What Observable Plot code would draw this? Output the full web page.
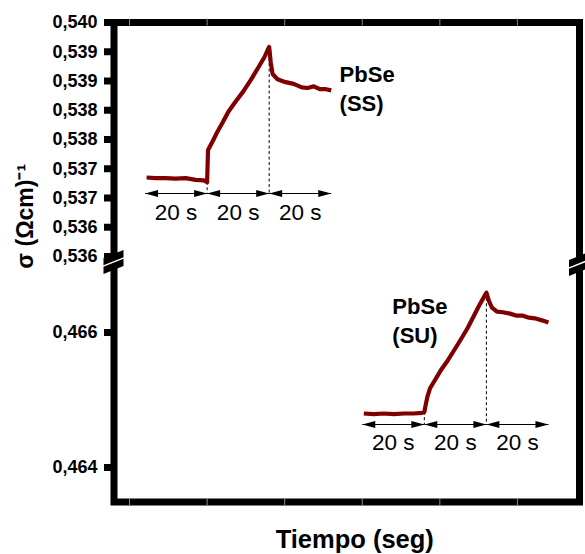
<!DOCTYPE html>
<html>
<head>
<meta charset="utf-8">
<script src="https://cdn.jsdelivr.net/npm/d3@7"></script>
<script src="https://cdn.jsdelivr.net/npm/@observablehq/plot@0.6"></script>
<style>
  body { margin: 0; background: #fff; }
  svg { display: block; }
</style>
</head>
<body>
<div id="chart"></div>
<script>
// Conductivity transients of PbSe films (light off / on / off, 20 s each)
const ssStart = 10;   // s, where the SS trace begins on the time axis
const suStart = 80;   // s, where the SU trace begins on the time axis

const ssTime  = [0.5, 3.4, 6.6, 9.8, 13.1, 16.3, 18.9, 20.0,
                 20.3, 21.8, 23.1, 25.0, 26.9, 29.2, 31.5, 34.0, 36.6, 38.5, 39.5, 40.0,
                 40.5, 41.1, 42.7, 45.3, 47.9, 50.5, 52.4, 54.4, 56.3, 58.3, 60.0];
const ssSigma = [0.53735, 0.53734, 0.53734, 0.53733, 0.53734, 0.53731, 0.53730, 0.53727,
                 0.53782, 0.53797, 0.53811, 0.53829, 0.53848, 0.53865, 0.53881, 0.53901, 0.53924, 0.53941, 0.53953, 0.53958,
                 0.53932, 0.53912, 0.53903, 0.53898, 0.53895, 0.53889, 0.53888, 0.53891, 0.53886, 0.53886, 0.53884];

const suTime  = [0.5, 3.7, 6.9, 10.2, 13.4, 16.6, 19.2, 20.0,
                 20.4, 21.0, 21.8, 23.1, 25.3, 27.6, 29.5, 31.8, 34.0, 35.9, 37.9, 39.5, 40.0,
                 40.8, 41.8, 43.4, 45.3, 47.6, 49.8, 51.8, 53.7, 55.6, 57.9, 60.0];
const suSigma = [0.46480, 0.46479, 0.46480, 0.46479, 0.46480, 0.46480, 0.46481, 0.46482,
                 0.46492, 0.46505, 0.46517, 0.46527, 0.46544, 0.46559, 0.46573, 0.46590, 0.46607, 0.46624, 0.46642, 0.46655, 0.46659,
                 0.46647, 0.46637, 0.46631, 0.46630, 0.46628, 0.46625, 0.46625, 0.46622, 0.46621, 0.46618, 0.46615];

const segmentEdges  = [0, 20, 40, 60];
const segmentLabels = ["20 s", "20 s", "20 s"];

const yTicks      = [0.5400, 0.5395, 0.5390, 0.5385, 0.5380, 0.5375, 0.5370, 0.5365, 0.5360, 0.466, 0.464];
const yTickLabels = ["0,540", "0,539", "0,539", "0,538", "0,538", "0,537", "0,537", "0,536", "0,536", "0,466", "0,464"];
const frameTicks  = [5, 30, 55, 80, 105, 130];

const ssName = ["PbSe", "(SS)"];
const suName = ["PbSe", "(SU)"];
const xTitle = "Tiempo (seg)";
const yTitle = "σ (Ωcm)⁻¹";

// ---- layout of the broken axis ----
const W = 585, H = 554;
const mL = 113.5, mR = 6, mT = 22, mB = 52.5;
const yBreakPx = 262;
// lower band (SU) runs up to lowBreak; upper band (SS) starts at highBreak,
// drawn with a slightly smaller unit length than the lower band
const lowMin = 0.463489, lowBreak = 0.467037, highBreak = 0.535897, highMax = 0.5400;
const highRatio = 58.5 / 67.5;
const yFold = v => v > 0.5 ? lowBreak + (v - highBreak) * highRatio : v;

const font = "'Liberation Sans', Arial, Helvetica, sans-serif";
const lineColor = "#800000";

const ss = ssTime.map((t, i) => ({x: ssStart + t, y: ssSigma[i]}));
const su = suTime.map((t, i) => ({x: suStart + t, y: suSigma[i]}));

// annotation levels for each trace (arrow row, label row)
const groups = [
  {start: ssStart, arrowY: 0.537077, labelY: 0.536752, trace: ss},
  {start: suStart, arrowY: 0.464637, labelY: 0.464370, trace: su}
];

const segments = [], heads = [], segText = [], dashes = [];
for (const g of groups) {
  for (let k = 0; k < 3; ++k) {
    const a = g.start + segmentEdges[k], b = g.start + segmentEdges[k + 1];
    segments.push({x1: a, x2: b, y: g.arrowY});
    heads.push({x: a, y: g.arrowY, dir: "left"}, {x: b, y: g.arrowY, dir: "right"});
    segText.push({x: (a + b) / 2, y: g.labelY, text: segmentLabels[k]});
  }
  for (const e of [20, 40]) {
    const p = g.trace.reduce((best, d) => Math.abs(d.x - (g.start + e)) < Math.abs(best.x - (g.start + e)) ? d : best);
    dashes.push({x: g.start + e, y1: p.y, y2: g.arrowY});
  }
}

// filled arrowheads with the tip at the anchor point
const headRight = {draw(ctx) { ctx.moveTo(0, 0); ctx.lineTo(-13, -3.5); ctx.lineTo(-13, 3.5); ctx.closePath(); }};
const headLeft  = {draw(ctx) { ctx.moveTo(0, 0); ctx.lineTo(13, -3.5); ctx.lineTo(13, 3.5); ctx.closePath(); }};

const names = [
  {x: 72.7, y: 0.53911, text: ssName[0]},
  {x: 72.7, y: 0.53860, text: ssName[1]},
  {x: 89.7, y: 0.466385, text: suName[0]},
  {x: 89.7, y: 0.465956, text: suName[1]}
];

const plot = Plot.plot({
  width: W,
  height: H,
  marginLeft: mL,
  marginRight: mR,
  marginTop: mT,
  marginBottom: mB,
  style: {fontFamily: font, background: "#fff", color: "black"},
  x: {domain: [0, 150], axis: null},
  y: {transform: yFold, domain: [lowMin, yFold(highMax)], range: [H - mB, mT], axis: null},
  marks: [
    // dashed guides at light on/off
    Plot.ruleX(dashes, {x: "x", y1: "y1", y2: "y2", stroke: "black", strokeWidth: 1, strokeDasharray: "3,2.5"}),
    // time-interval arrows
    Plot.link(segments, {x1: "x1", x2: "x2", y1: "y", y2: "y", stroke: "black", strokeWidth: 1}),
    Plot.dot(heads.filter(d => d.dir === "left"), {x: "x", y: "y", symbol: headLeft, fill: "black", stroke: "none"}),
    Plot.dot(heads.filter(d => d.dir === "right"), {x: "x", y: "y", symbol: headRight, fill: "black", stroke: "none"}),
    Plot.text(segText, {x: "x", y: "y", text: "text", fontSize: 22.5, fill: "black", lineAnchor: "middle"}),
    // conductivity traces
    Plot.line(ss, {x: "x", y: "y", stroke: lineColor, strokeWidth: 4.2, strokeLinejoin: "round", strokeLinecap: "butt"}),
    Plot.line(su, {x: "x", y: "y", stroke: lineColor, strokeWidth: 4.2, strokeLinejoin: "round", strokeLinecap: "butt"}),
    Plot.text(names, {x: "x", y: "y", text: "text", textAnchor: "start", lineAnchor: "middle", fontSize: 22, fontWeight: "bold", fill: "black"}),
    // box and axis
    Plot.axisY(yTicks, {
      anchor: "left",
      tickSize: 9.5,
      tickPadding: 7,
      strokeWidth: 7,
      stroke: "black",
      tickFormat: d => yTickLabels[yTicks.findIndex(t => Math.abs(t - d) < 1e-9)],
      fontSize: 18,
      fontWeight: "bold",
      fill: "black",
      label: null
    }),
    Plot.frame({stroke: "black", strokeWidth: 7}),
    Plot.ruleX(frameTicks, {x: d => d, stroke: "#8a8a8a", strokeWidth: 1, insetTop: (H - mB - mT) - 3.5, insetBottom: -3.5}),
    Plot.ruleX(frameTicks, {x: d => d, stroke: "#8a8a8a", strokeWidth: 1, insetTop: -3.5, insetBottom: (H - mB - mT) - 3.5}),
    // titles
    Plot.text([xTitle], {text: d => d, frameAnchor: "bottom", textAnchor: "middle", dx: 8, dy: 38, fontSize: 25.5, fontWeight: "bold", fill: "black", lineAnchor: "middle"}),
    Plot.text([yTitle], {text: d => d, frameAnchor: "left", textAnchor: "middle", rotate: -90, dx: -88.5, dy: -46, fontSize: 23, fontWeight: "bold", fill: "black", lineAnchor: "middle"})
  ]
});

// axis-break symbols on both sides of the box
const svg = d3.select(plot);
const xs = plot.scale("x");
const breaks = [
  {cx: xs.apply(0), cy: yBreakPx},
  {cx: xs.apply(150), cy: yBreakPx + 2}
];
for (const b of breaks) {
  const g = svg.append("g").attr("transform", `translate(${b.cx},${b.cy})`);
  g.append("polygon")
    .attr("points", "-10,-4 10,-12 10,4 -10,12")
    .attr("fill", "black");
  g.append("line")
    .attr("x1", -11).attr("y1", 4.4).attr("x2", 11).attr("y2", -4.4)
    .attr("stroke", "white").attr("stroke-width", 1.5);
}

document.getElementById("chart").append(plot);
</script>
</body>
</html>
